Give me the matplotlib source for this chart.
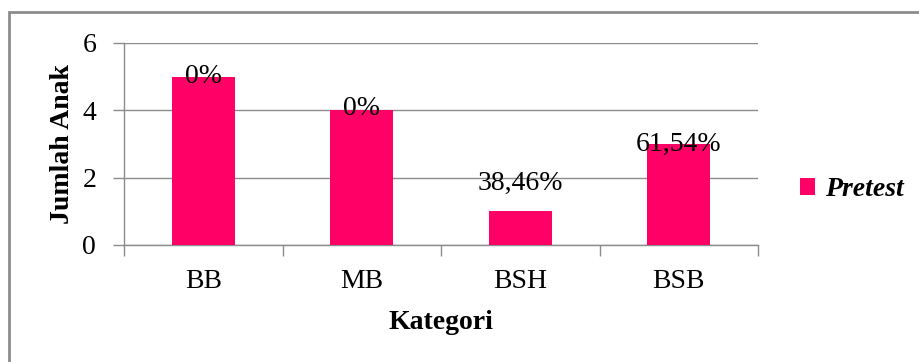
import matplotlib
matplotlib.use("Agg")
import matplotlib.pyplot as plt
from matplotlib.patches import Rectangle
import numpy as np

categories = ["BB", "MB", "BSH", "BSB"]
jumlah_anak = [5, 4, 1, 3]
persen_labels = ["0%", "0%", "38,46%", "61,54%"]
series_name = "Pretest"

plt.rcParams["font.family"] = ["Liberation Serif", "DejaVu Serif"]

W, H = 919, 362
fig = plt.figure(figsize=(W / 100, H / 100), dpi=100)

# outer chart frame (cut off at right and bottom in the reference)
fig.patches.append(Rectangle((9 / W, -0.05), 1.0, 1 - 12 / H + 0.05,
                             transform=fig.transFigure, fill=False,
                             edgecolor="#8c8c8c", linewidth=2.0))

ax = fig.add_axes([124 / W, 1 - 245 / H, (758 - 124) / W, (245 - 43) / H])

x = np.arange(len(categories))
bar_color = "#ff0066"
ax.bar(x, jumlah_anak, width=0.4, color=bar_color, label=series_name, zorder=3)

ax.set_xlim(-0.5, len(categories) - 0.5)
ax.set_ylim(0, 6)
ax.set_yticks([0, 2, 4, 6])
ax.yaxis.grid(True, color="#8c8c8c", linewidth=1.0, zorder=0)
ax.set_axisbelow(True)

for s in ["top", "right"]:
    ax.spines[s].set_visible(False)
for s in ["left", "bottom"]:
    ax.spines[s].set_color("#8c8c8c")
    ax.spines[s].set_linewidth(1.0)

fs = 20
ax.set_xticks(x)
ax.set_xticklabels(categories, fontsize=fs)
ax.tick_params(axis="x", length=0, pad=17)
ax.set_xticks(np.arange(-0.5, len(categories)), minor=True)
ax.tick_params(axis="x", which="minor", length=8, color="#8c8c8c", width=1)
ax.tick_params(axis="y", length=8, color="#8c8c8c", width=1, labelsize=fs, pad=12)

ax.set_ylabel("Jumlah Anak", fontsize=fs, fontweight="bold", labelpad=5)
ax.set_xlabel("Kategori", fontsize=fs, fontweight="bold", labelpad=12)

# data labels (BSH label sits above its bar, others on the bar top)
label_offsets = [0, 2, 28, 0]
for xi, v, lab, off in zip(x, jumlah_anak, persen_labels, label_offsets):
    ax.annotate(lab, (xi, v), xytext=(0, off), textcoords="offset pixels",
                ha="center", va="center", fontsize=fs, color="#000000", zorder=4)

leg = fig.legend(handles=ax.get_legend_handles_labels()[0],
                 labels=[series_name], loc="center left",
                 bbox_to_anchor=(800 / W, 1 - 190 / H), frameon=False,
                 borderpad=0, borderaxespad=0,
                 handlelength=0.54, handleheight=0.54, handletextpad=0.36,
                 prop={"size": fs, "weight": "bold", "style": "italic"})

fig.savefig("out.png", dpi=100)
